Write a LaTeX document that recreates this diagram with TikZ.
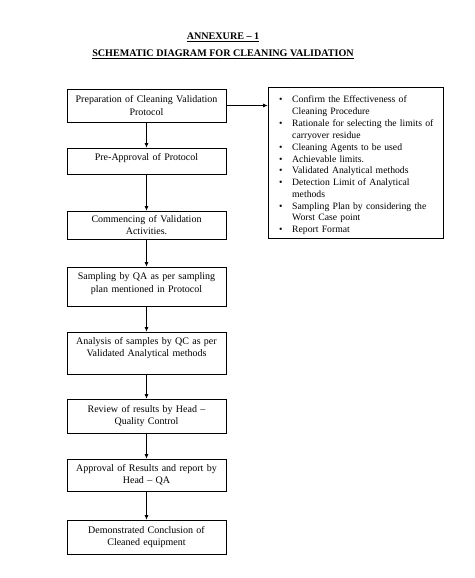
\documentclass[tikz,border=0pt]{standalone}
\usepackage{fontspec}
\setmainfont{Liberation Serif}
\usetikzlibrary{arrows.meta}
\newcommand{\lowpad}[1]{\rule[-#1]{0pt}{#1}}
\newcommand{\bitem}[1]{\par\hangindent=24pt\hangafter=1\noindent\hspace*{11pt}\makebox[13pt][l]{\textbullet}#1}
\begin{document}
\begin{tikzpicture}[x=1pt,y=-1pt,
  stepbox/.style={draw, line width=0.7pt, minimum width=159pt, text width=155pt, align=center,
    inner xsep=2pt, inner ysep=0pt, font=\fontsize{10}{12.5}\selectfont},
  titletext/.style={font=\bfseries\fontsize{10.1}{12}\selectfont, inner sep=0pt},
  arr/.style={-{Latex[length=4.5pt,width=4pt]}, line width=0.7pt}]
\useasboundingbox[fill=white] (0,0) rectangle (474,578);

\node[titletext] (t1) at (223,37) {\underline{ANNEXURE – 1}};
\node[titletext] (t2) at (223,54) {\underline{SCHEMATIC DIAGRAM FOR CLEANING VALIDATION}};

\node[stepbox, minimum height=33pt] (b1) at (146.5,105.5) {Preparation of Cleaning Validation\\Protocol};
\node[stepbox, minimum height=26pt] (b2) at (146.5,161) {Pre-Approval of Protocol\lowpad{8.5pt}};
\node[stepbox, minimum height=28pt] (b3) at (146.5,225) {Commencing of Validation\\Activities.};
\node[stepbox, minimum height=39pt] (b4) at (146.5,286.5) {Sampling by QA as per sampling\\plan mentioned in Protocol\lowpad{7.5pt}};
\node[stepbox, minimum height=42pt] (b5) at (146.5,353) {Analysis of samples by QC as per\\Validated Analytical methods\lowpad{12.5pt}};
\node[stepbox, minimum height=34pt] (b6) at (146.5,416) {Review of results by Head –\\Quality Control};
\node[stepbox, minimum height=32pt] (b7) at (146.5,475) {Approval of Results and report by\\Head – QA};
\node[stepbox, minimum height=34pt] (b8) at (146.5,537) {Demonstrated Conclusion of\\Cleaned equipment};

\node[draw, line width=0.7pt, minimum width=175pt, minimum height=151pt, inner sep=0pt] (list) at (355.5,162.5) {};
\node[anchor=north west, text width=175pt, inner sep=0pt, font=\fontsize{9.7}{11.8}\selectfont] (listtext) at (268,91) {%
\bitem{Confirm the Effectiveness of\newline Cleaning Procedure}
\bitem{Rationale for selecting the limits of\newline carryover residue}
\bitem{Cleaning Agents to be used}
\bitem{Achievable limits.}
\bitem{Validated Analytical methods}
\bitem{Detection Limit of Analytical\newline methods}
\bitem{Sampling Plan by considering the\newline Worst Case point}
\bitem{Report Format}\par};

\draw[arr] (b1.south) -- (b2.north);
\draw[arr] (b2.south) -- (b3.north);
\draw[arr] (b3.south) -- (b4.north);
\draw[arr] (b4.south) -- (b5.north);
\draw[arr] (b5.south) -- (b6.north);
\draw[arr] (b6.south) -- (b7.north);
\draw[arr] (b7.south) -- (b8.north);
\draw[arr] (b1.east) -- (b1.east -| list.west);
\end{tikzpicture}
\end{document}
